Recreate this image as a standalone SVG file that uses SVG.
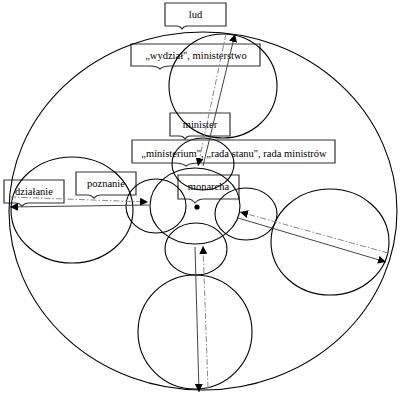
<svg xmlns="http://www.w3.org/2000/svg" width="400" height="406" viewBox="0 0 400 406">
<style>
.box{fill:#fff;stroke:#333;stroke-width:1.2}
.c{fill:none;stroke:#000;stroke-width:1.1}
.t{font-family:"Liberation Serif","Times New Roman",serif;font-size:10.5px;fill:#000;text-anchor:middle}
.s{stroke:#444;stroke-width:1;fill:none}
.d{stroke:#888;stroke-width:1;fill:none;stroke-dasharray:6 2 1.5 2}
</style>
<defs>
<marker id="a" viewBox="0 0 10 10" refX="10" refY="5" markerWidth="8" markerHeight="8" orient="auto-start-reverse" markerUnits="userSpaceOnUse">
<path d="M0,0 L10,5 L0,10 Z" fill="#000"/>
</marker>
</defs>
<rect width="400" height="406" fill="#fff"/>
<g id="lud"><path class="box" d="M165,3 H226 V26 H187 Q184,26 182,29 Q180,26 177,26 H165 Z"/><text class="t" x="195.5" y="18">lud</text></g>
<g id="wydzial"><path class="box" d="M131,44 H260 V66 H170 Q163,66 160,69 Q157,66 150,66 H131 Z"/><text class="t" x="196" y="58.5">„wydział", ministerstwo</text></g>
<g id="minister"><path class="box" d="M170,113 H230 V136 H190 Q187,136 185,139 Q183,136 180,136 H170 Z"/><text class="t" x="200" y="127.5">minister</text></g>
<g id="ministerium"><path class="box" d="M132,140 H335 V163 H198 Q190,163 186,166 Q182,163 175,163 H132 Z"/><text class="t" x="234" y="156.5">„ministerium", „rada stanu", rada ministrów</text></g>
<g id="monarcha"><path class="box" d="M178,175 H239 V199 H204 Q198,199 195,203 Q192,199 188,199 H178 Z"/><text class="t" x="208.5" y="190">monarcha</text></g>
<g id="dzialanie"><path class="box" d="M4,180 H64 V203 H28 Q25,203 22,206 Q19,203 16,203 H4 Z"/><text class="t" x="34" y="195">działanie</text></g>
<g id="poznanie"><path class="box" d="M76,172 H136 V195 H100 Q97,195 94,198 Q91,195 88,195 H76 Z"/><text class="t" x="106" y="186.5">poznanie</text></g>
<g id="circles">
<ellipse class="c" cx="203" cy="211" rx="194" ry="179"/>
<ellipse class="c" cx="223" cy="86" rx="54" ry="52"/>
<ellipse class="c" cx="72" cy="210" rx="61" ry="53"/>
<ellipse class="c" cx="330" cy="242" rx="59" ry="53"/>
<ellipse class="c" cx="195" cy="332" rx="57" ry="57"/>
<ellipse class="c" cx="195" cy="206" rx="45" ry="38"/>
<ellipse class="c" cx="203" cy="164" rx="31" ry="26"/>
<ellipse class="c" cx="156" cy="206" rx="30" ry="27"/>
<ellipse class="c" cx="246" cy="214" rx="31" ry="26"/>
<ellipse class="c" cx="196" cy="249" rx="31" ry="26"/>
<circle cx="197" cy="207" r="2.6" fill="#000"/>
</g>
<g id="connectors">
<line class="s" x1="203" y1="166" x2="235" y2="34" marker-end="url(#a)"/>
<line class="d" x1="226" y1="34" x2="198" y2="166" marker-end="url(#a)"/>
<line class="d" x1="10" y1="197" x2="148" y2="202" marker-end="url(#a)"/>
<line class="s" x1="149" y1="205" x2="10" y2="207" marker-end="url(#a)"/>
<line class="d" x1="388" y1="253" x2="240" y2="212" marker-end="url(#a)"/>
<line class="s" x1="238" y1="218" x2="386" y2="262" marker-end="url(#a)"/>
<line class="d" x1="208" y1="388" x2="203" y2="246" marker-end="url(#a)"/>
<line class="s" x1="195" y1="247" x2="199" y2="392" marker-end="url(#a)"/>
</g>
</svg>
